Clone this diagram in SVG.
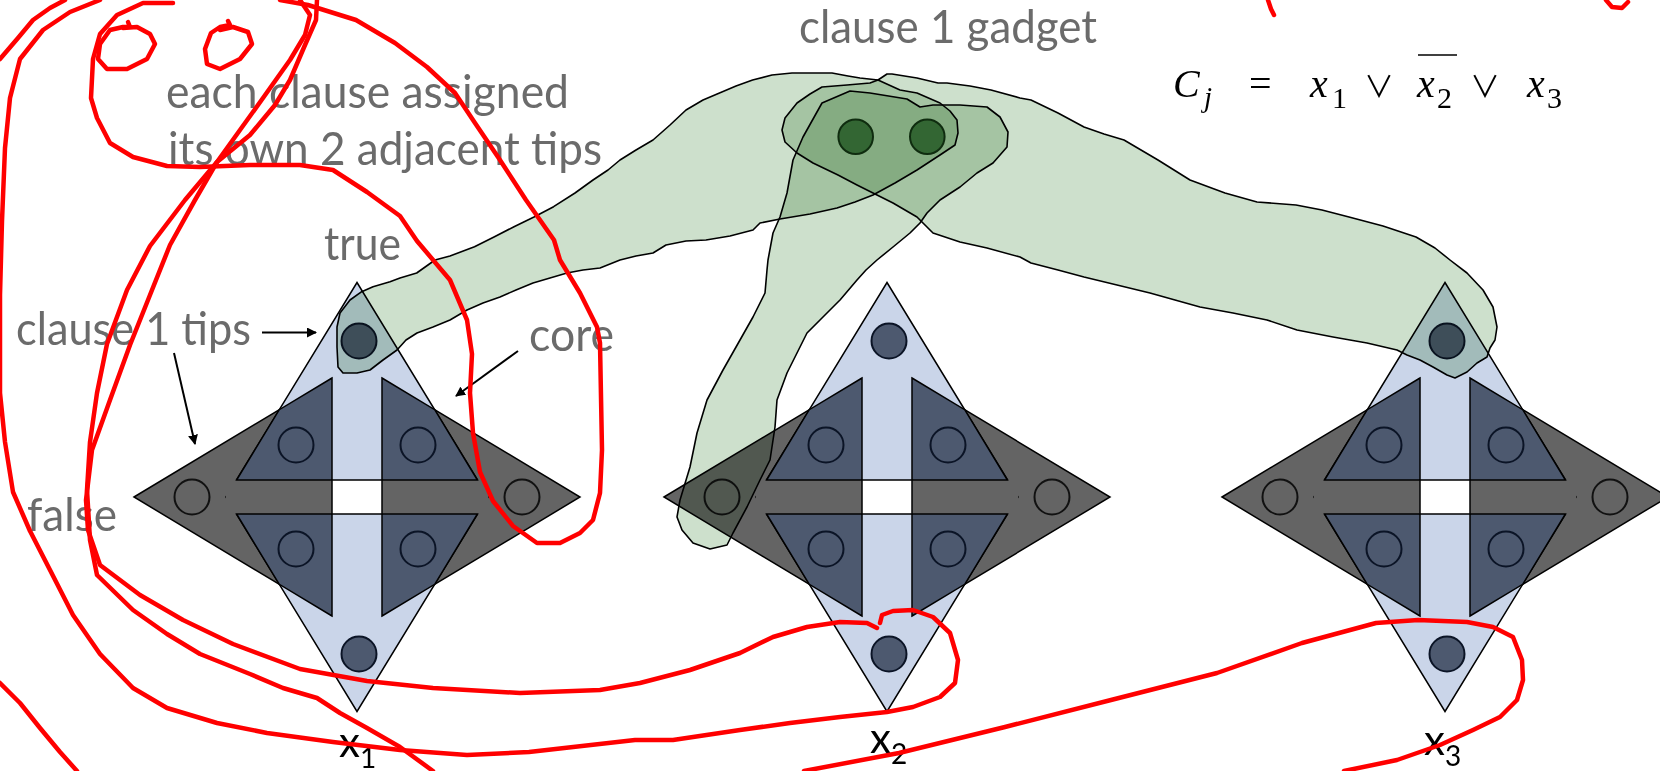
<svg xmlns="http://www.w3.org/2000/svg" width="1660" height="771" viewBox="0 0 1660 771">
  <defs>
    <style>
      .gray { fill: #646464; stroke: #000; stroke-width: 1.5; }
      .blue { fill: #cad5e9; stroke: #000; stroke-width: 1.5; }
      .quad { fill: #4d596f; stroke: #000; stroke-width: 1.5; stroke-linejoin: miter; }
      .band { fill: #646464; }
      .hole { fill: #fff; stroke: #000; stroke-width: 1.5; }
      .ring { fill: none; stroke: #0b1426; stroke-width: 2; }
      .ring-g { fill: none; stroke: #111; stroke-width: 2; }
      .tip { fill: #4d596f; stroke: #0b1426; stroke-width: 2; }
      .arm { fill: #cde0cc; stroke: #000; stroke-width: 1.6; stroke-linejoin: round; mix-blend-mode: multiply; }
      .lit { fill: #336633; stroke: #0f2c0f; stroke-width: 2; }
      .lbl { font-family: Lato, "Open Sans", "Liberation Sans", sans-serif; font-size: 47px; fill: #6b6b6b; }
      .var { font-family: Lato, "Open Sans", "Liberation Sans", sans-serif; fill: #000; }
      .math { font-family: "Liberation Serif", "DejaVu Serif", serif; fill: #000; }
      .or { font-family: "Noto Sans CJK JP", "DejaVu Sans", sans-serif; font-size: 30px; }
      .arrow { stroke: #000; stroke-width: 2; fill: none; }
      .ink { fill: none; stroke: #ff0000; stroke-width: 4.5; stroke-linecap: round; stroke-linejoin: round; }
    </style>
    <marker id="head" viewBox="0 0 10 10" refX="9" refY="5" markerWidth="5" markerHeight="5" orient="auto">
      <path d="M0,0 L10,5 L0,10 z" fill="#000"/>
    </marker>
    <!-- one variable gadget, centred on (0,0) -->
    <g id="gadget">
      <polygon class="gray" points="-223,0 0,-134 223,0 0,134"/>
      <polygon class="blue" points="0,-214.5 131,0 0,214.5 -131,0"/>
      <rect class="band" x="-131" y="-17" width="262" height="34"/>
      <polygon class="quad" points="-25,-119 -77.7,-87.3 -120.4,-17 -25,-17"/>
      <polygon class="quad" points="25,-119 77.7,-87.3 120.4,-17 25,-17"/>
      <polygon class="quad" points="-25,119 -77.7,87.3 -120.4,17 -25,17"/>
      <polygon class="quad" points="25,119 77.7,87.3 120.4,17 25,17"/>
      <rect class="hole" x="-25" y="-17" width="50" height="34"/>
      <circle class="ring" cx="-61" cy="-52" r="17.5"/>
      <circle class="ring" cx="61" cy="-52" r="17.5"/>
      <circle class="ring" cx="-61" cy="52" r="17.5"/>
      <circle class="ring" cx="61" cy="52" r="17.5"/>
      <circle class="ring-g" cx="-165" cy="0" r="17.5"/>
      <circle class="ring-g" cx="165" cy="0" r="17.5"/>
      <circle class="tip" cx="2" cy="-156" r="17.5"/>
      <circle class="tip" cx="2" cy="157" r="17.5"/>
    </g>
  </defs>

  <rect width="1660" height="771" fill="#fff"/>

  <!-- variable gadgets -->
  <g id="gadget-x1"><use href="#gadget" x="357" y="497"/></g>
  <g id="gadget-x2"><use href="#gadget" x="887" y="497"/></g>
  <g id="gadget-x3"><use href="#gadget" x="1445" y="497"/></g>

  <!-- clause 1 gadget: three arms reaching the chosen tips -->
  <g id="clause-gadget">
    <path class="arm" d="M361.7,291.7 L373,286.7 390,281.7 400,278 416.7,273 435,260 450,256 474.5,246.7 494,237 514,226.7 534,217 553.6,206.7 575,193 593,180 608,170 620,160 636,150 653,140 670,125 686,110 703,100 719.5,93 736,86 752.6,80 772,75 792,73 813,73 832,73 848,76 860,78 878,80 900,90 917,93 940,103 950,111 957,120 958,133 955,145 940,155 917,170 895,183 873,195 855,202 837,208 810,214 780,219 760,223 753,230 730,236 706,240 686,241 666,245 653,253 636,256 620,260 600,268 583,270 567,273 550,278 533,283 516,290 500,297 483,303 467,310 450,320 433,327 417,333 406,340 397,350 383,360 370,370 357,373 343,373 338,367 337,347 337,327 340,313 350,300 Z"/>
    <path class="arm" d="M782,130 L785,118 797,103 810,94 822,87 847,85 870,83 878,80 887,74 892,74 917,78 938,83 947,83 970,86 991,90 1020,98 1031,100 1058,113 1084,127 1104,134 1124,140 1158,160 1190,180 1225,193 1257,202 1296,205 1322,210 1349,217 1383,226 1416,237 1435,248 1450,260 1467,273 1483,290 1493,307 1497,327 1495,340 1490,348 1487,357 1477,363 1467,372 1455,378 1447,375 1433,367 1420,360 1407,355 1397,350 1367,343 1333,337 1297,330 1267,320 1233,313 1200,307 1175,300 1150,293 1117,285 1084,277 1058,270 1031,263 1020,257 987,248 960,242 933,233 927,227 917,217 893,203 873,193 857,185 838,175 813,163 797,153 785,142 Z"/>
    <path class="arm" d="M822,103 L850,91 870,93 907,99 920,107 933,105 960,105 987,107 1000,117 1008,132 1007,147 993,163 977,173 960,187 940,200 927,213 920,223 910,233 893,247 877,260 866,270 857,280 840,300 820,320 807,333 797,353 787,373 777,400 775,427 770,460 760,480 747,507 733,533 727,545 710,549 693,543 682,530 677,517 680,500 690,467 697,433 707,400 723,370 740,340 753,317 765,293 767,270 768,260 773,233 780,217 787,193 793,160 803,137 Z"/>
    <circle class="lit" cx="855.7" cy="136.7" r="17.3"/>
    <circle class="lit" cx="927.3" cy="136.7" r="17.3"/>
  </g>

  <!-- pointers from the labels -->
  <g id="connectors">
    <line class="arrow" x1="262" y1="332.5" x2="316" y2="332.5" marker-end="url(#head)"/>
    <line class="arrow" x1="174" y1="353" x2="195" y2="444" marker-end="url(#head)"/>
    <line class="arrow" x1="518" y1="351" x2="456" y2="396" marker-end="url(#head)"/>
  </g>

  <!-- labels -->
  <g id="labels">
    <text class="lbl" x="799" y="43" textLength="298" lengthAdjust="spacingAndGlyphs">clause 1 gadget</text>
    <text class="lbl" x="166" y="108" textLength="403" lengthAdjust="spacingAndGlyphs">each clause assigned</text>
    <text class="lbl" x="168" y="165" textLength="434" lengthAdjust="spacingAndGlyphs">its own 2 adjacent tips</text>
    <text class="lbl" x="324" y="260" textLength="77" lengthAdjust="spacingAndGlyphs">true</text>
    <text class="lbl" x="16" y="345" textLength="235" lengthAdjust="spacingAndGlyphs">clause 1 tips</text>
    <text class="lbl" x="529" y="351" textLength="85" lengthAdjust="spacingAndGlyphs">core</text>
    <text class="lbl" x="27" y="531" textLength="90" lengthAdjust="spacingAndGlyphs">false</text>
    <text class="var" x="339" y="757" font-size="42">x<tspan font-size="28" dy="11">1</tspan></text>
    <text class="var" x="870" y="753" font-size="42">x<tspan font-size="28" dy="11">2</tspan></text>
    <text class="var" x="1424" y="755" font-size="42">x<tspan font-size="28" dy="11">3</tspan></text>
  </g>

  <!-- clause formula -->
  <g id="formula" class="math">
    <text x="1173" y="97" font-size="40" font-style="italic">C</text>
    <text x="1204" y="107" font-size="29" font-style="italic">j</text>
    <text x="1249" y="97" font-size="40">=</text>
    <text x="1310" y="97" font-size="40" font-style="italic">x</text>
    <text x="1332" y="108" font-size="30">1</text>
    <text class="or" x="1364" y="97">∨</text>
    <text x="1417" y="97" font-size="40" font-style="italic">x</text>
    <text x="1437" y="108" font-size="30">2</text>
    <line x1="1418" y1="55" x2="1457" y2="55" stroke="#000" stroke-width="1.5"/>
    <text class="or" x="1470" y="97">∨</text>
    <text x="1527" y="97" font-size="40" font-style="italic">x</text>
    <text x="1547" y="108" font-size="30">3</text>
  </g>

  <!-- red pen annotations -->
  <g id="ink">
    <!-- the two letters at the top -->
    <path class="ink" d="M128,22 L130,27 123,27 110,30 100,44 98,59 107,69 127,69 147,59 155,44 150,34 137,27 123,28"/>
    <path class="ink" d="M228,21 L230,25 220,27 211,33 205,49 207,64 220,69 240,59 252,44 248,32 233,27 220,30"/>
    <!-- corner stroke -->
    <path class="ink" d="M0,59 L18,38 33,20 50,8 65,0"/>
    <!-- loop round the text and the core -->
    <path class="ink" d="M173,3 L143,3 117,15 100,34 93,59 91,98 97,118 110,143 133,157 167,166 200,167 250,165 300,165 333,170 367,192 400,216 417,241 450,280 467,320 472,354 470,393 473,433 480,472 493,501 513,526 537,543 560,543 580,533 593,520 600,493 602,450 600,343 597,327 580,293 560,260 554,240 526,200 498,157 475,123 455,93 427,67 395,43 356,20 308,5 280,0"/>
    <!-- long stroke down the left edge, round to the bottom tip of x2 -->
    <path class="ink" d="M100,0 L70,12 43,30 20,59 10,98 5,148 2,221 0,295 0,393 5,442 13,492 30,531 50,570 73,615 100,654 133,688 167,708 217,723 267,733 333,742 400,750 467,755 529,752 635,740 673,740 740,730 790,723 840,717 887,712 913,707 940,697 955,683 958,660 950,633 933,617 913,610 893,611 882,615 880,623"/>
    <!-- two strokes down through the text -->
    <path class="ink" d="M300,0 L310,15 305,35 290,60 263,98 240,130 217,162 195,200 170,245 150,295 130,345 110,400 92,450 86,500 88,530 100,565 140,595 183,620 233,644 300,669 367,681 433,688 520,693 600,690 640,683 690,670 740,653 773,637 807,627 840,622 867,623 877,628"/>
    <path class="ink" d="M317,0 L316,20 305,45 290,80 275,105 250,135 217,162 185,200 150,246 127,290 107,344 97,393 90,442 87,490 90,540 97,575 133,610 167,634 200,654 250,674 283,688 317,698 340,713 367,728 400,747 433,771"/>
    <!-- loop round the bottom tip of x3 -->
    <path class="ink" d="M804,771 L899,753 1005,727 1111,700 1217,673 1302,643 1376,623 1418,620 1467,622 1493,627 1513,637 1522,660 1523,680 1517,700 1500,717 1473,730 1440,745 1397,760 1344,771"/>
    <path class="ink" d="M0,683 L20,703 40,728 60,752 77,771"/>
    <!-- clipped handwriting at the top edge -->
    <path class="ink" d="M1268,0 L1271,9 1274,15"/>
    <path class="ink" d="M1606,0 L1612,7 1622,8 1628,2"/>
  </g>
</svg>
